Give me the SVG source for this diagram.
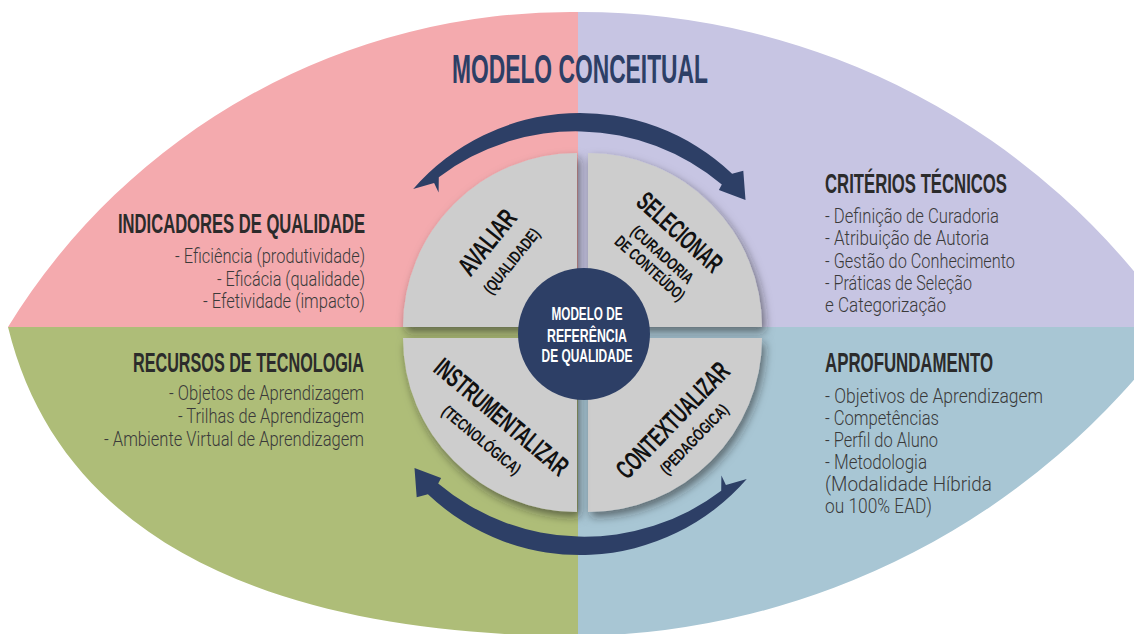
<svg xmlns="http://www.w3.org/2000/svg" width="1134" height="634" viewBox="0 0 1134 634">
<defs>
<style>
.h{font-family:"Liberation Sans Narrow","Liberation Sans",Arial,sans-serif;font-weight:bold;font-size:28px;fill:#2b2b2b}
.it{font-family:Roboto,"Liberation Sans",Arial,sans-serif;font-weight:300;font-size:20.5px;fill:#3a3a3a}
.q{font-family:"Liberation Sans Narrow","Liberation Sans",Arial,sans-serif;font-weight:bold;fill:#111;text-anchor:middle}
.big{font-size:27px}
.sm{font-size:16.5px}
.c{font-family:"Liberation Sans Narrow","Liberation Sans",Arial,sans-serif;font-weight:bold;font-size:19px;fill:#fff;text-anchor:middle}
.sector{fill:#cdcdcd;filter:url(#sh)}
.arrow{fill:#2d3f66}
</style>
<clipPath id="lens">
<path d="M 8 327 A 660 660 0 0 1 578 12 A 720 720 0 0 1 1176 327 A 750 750 0 0 1 578 636 C 320 636 66 566 8 327 Z"/>
</clipPath>
<filter id="sh" x="-30%" y="-30%" width="160%" height="160%">
<feDropShadow dx="3" dy="5" stdDeviation="5" flood-color="#1a1a1a" flood-opacity="0.55"/>
</filter>
</defs>
<rect width="1134" height="634" fill="#ffffff"/>
<g id="background" clip-path="url(#lens)">
<rect x="0" y="0" width="578" height="327" fill="#f4aaae"/>
<rect x="578" y="0" width="556" height="327" fill="#c7c5e3"/>
<rect x="0" y="327" width="578" height="307" fill="#aebd78"/>
<rect x="578" y="327" width="556" height="307" fill="#a8c6d4"/>
</g>
<g id="title">
<text x="452" y="83" style="font-family:'Liberation Sans Narrow','Liberation Sans',Arial,sans-serif;font-weight:bold;font-size:41px;fill:#2d3f66" textLength="256" lengthAdjust="spacingAndGlyphs">MODELO CONCEITUAL</text>
</g>
<g id="indicadores">
<text class="h" x="118" y="233" textLength="247" lengthAdjust="spacingAndGlyphs">INDICADORES DE QUALIDADE</text>
<text class="it" x="175" y="263" textLength="190" lengthAdjust="spacingAndGlyphs">- Eficiência (produtividade)</text>
<text class="it" x="217" y="286" textLength="148" lengthAdjust="spacingAndGlyphs">- Eficácia (qualidade)</text>
<text class="it" x="203" y="308" textLength="162" lengthAdjust="spacingAndGlyphs">- Efetividade (impacto)</text>
</g>
<g id="recursos">
<text class="h" x="133" y="372" textLength="231" lengthAdjust="spacingAndGlyphs">RECURSOS DE TECNOLOGIA</text>
<text class="it" x="169" y="400" textLength="195" lengthAdjust="spacingAndGlyphs">- Objetos de Aprendizagem</text>
<text class="it" x="178" y="423" textLength="186" lengthAdjust="spacingAndGlyphs">- Trilhas de Aprendizagem</text>
<text class="it" x="104" y="446" textLength="260" lengthAdjust="spacingAndGlyphs">- Ambiente Virtual de Aprendizagem</text>
</g>
<g id="criterios">
<text class="h" x="825" y="193" textLength="182" lengthAdjust="spacingAndGlyphs">CRITÉRIOS TÉCNICOS</text>
<text class="it" x="825" y="223" textLength="174" lengthAdjust="spacingAndGlyphs">- Definição de Curadoria</text>
<text class="it" x="825" y="245" textLength="164" lengthAdjust="spacingAndGlyphs">- Atribuição de Autoria</text>
<text class="it" x="825" y="268" textLength="190" lengthAdjust="spacingAndGlyphs">- Gestão do Conhecimento</text>
<text class="it" x="825" y="290" textLength="147" lengthAdjust="spacingAndGlyphs">- Práticas de Seleção</text>
<text class="it" x="825" y="312" textLength="121" lengthAdjust="spacingAndGlyphs">e Categorização</text>
</g>
<g id="aprofundamento">
<text class="h" x="825" y="372" textLength="168" lengthAdjust="spacingAndGlyphs">APROFUNDAMENTO</text>
<text class="it" x="825" y="403" textLength="218" lengthAdjust="spacingAndGlyphs">- Objetivos de Aprendizagem</text>
<text class="it" x="825" y="425" textLength="114" lengthAdjust="spacingAndGlyphs">- Competências</text>
<text class="it" x="825" y="447" textLength="113" lengthAdjust="spacingAndGlyphs">- Perfil do Aluno</text>
<text class="it" x="825" y="469" textLength="102" lengthAdjust="spacingAndGlyphs">- Metodologia</text>
<text class="it" x="825" y="491" textLength="167" lengthAdjust="spacingAndGlyphs">(Modalidade Híbrida</text>
<text class="it" x="825" y="513" textLength="107" lengthAdjust="spacingAndGlyphs">ou 100% EAD)</text>
</g>
<g id="connectors">
<path class="arrow" d="M 413.2 189.0 A 221 221 0 0 1 732.1 173.7 L 743.3 170.7 L 745.5 200.0 L 718.9 190.1 L 721.8 184.6 A 227 227 0 0 0 438.8 177.2 L 438.6 192.6 L 434.1 182.9 Z"/>
<path class="arrow" transform="rotate(180 580 334)" d="M 413.2 189.0 A 221 221 0 0 1 732.1 173.7 L 743.3 170.7 L 745.5 200.0 L 718.9 190.1 L 721.8 184.6 A 227 227 0 0 0 438.8 177.2 L 438.6 192.6 L 434.1 182.9 Z"/>
</g>
<g id="avaliar">
<path class="sector" d="M 577 327 L 403 327 A 174 174 0 0 1 577 153 Z"/>
<g transform="translate(487 242) rotate(-51)"><text class="q big" x="0" y="9.5" textLength="76" lengthAdjust="spacingAndGlyphs">AVALIAR</text></g>
<g transform="translate(511.5 261) rotate(-51)"><text class="q sm" x="0" y="5.8" textLength="79" lengthAdjust="spacingAndGlyphs">(QUALIDADE)</text></g>
</g>
<g id="selecionar">
<path class="sector" d="M 588 327 L 588 153 A 174 174 0 0 1 762 327 Z"/>
<g transform="translate(680 232) rotate(42)"><text class="q big" x="0" y="9.5" textLength="105" lengthAdjust="spacingAndGlyphs">SELECIONAR</text></g>
<g transform="translate(662.5 254.5) rotate(42)"><text class="q sm" x="0" y="5.8" textLength="78" lengthAdjust="spacingAndGlyphs">(CURADORIA</text></g>
<g transform="translate(650 268) rotate(42)"><text class="q sm" x="0" y="5.8" textLength="88" lengthAdjust="spacingAndGlyphs">DE CONTEÚDO)</text></g>
</g>
<g id="contextualizar">
<path class="sector" d="M 588 338 L 762 338 A 174 174 0 0 1 588 512 Z"/>
<g transform="translate(672.5 420) rotate(-46)"><text class="q big" x="0" y="9.5" textLength="150" lengthAdjust="spacingAndGlyphs">CONTEXTUALIZAR</text></g>
<g transform="translate(694 439) rotate(-46)"><text class="q sm" x="0" y="5.8" textLength="90" lengthAdjust="spacingAndGlyphs">(PEDAGÓGICA)</text></g>
</g>
<g id="instrumentalizar">
<path class="sector" d="M 577 338 L 577 512 A 174 174 0 0 1 403 338 Z"/>
<g transform="translate(501.7 416.7) rotate(40)"><text class="q big" x="0" y="9.5" textLength="166" lengthAdjust="spacingAndGlyphs">INSTRUMENTALIZAR</text></g>
<g transform="translate(481.7 440) rotate(40)"><text class="q sm" x="0" y="5.8" textLength="97" lengthAdjust="spacingAndGlyphs">(TECNOLÓGICA)</text></g>
</g>
<g id="centro">
<circle cx="584" cy="334" r="66" fill="#2d3f66"/>
<text class="c" x="587" y="320" textLength="71" lengthAdjust="spacingAndGlyphs">MODELO DE</text>
<text class="c" x="587" y="342" textLength="80" lengthAdjust="spacingAndGlyphs">REFERÊNCIA</text>
<text class="c" x="587" y="362" textLength="91" lengthAdjust="spacingAndGlyphs">DE QUALIDADE</text>
</g>
</svg>
